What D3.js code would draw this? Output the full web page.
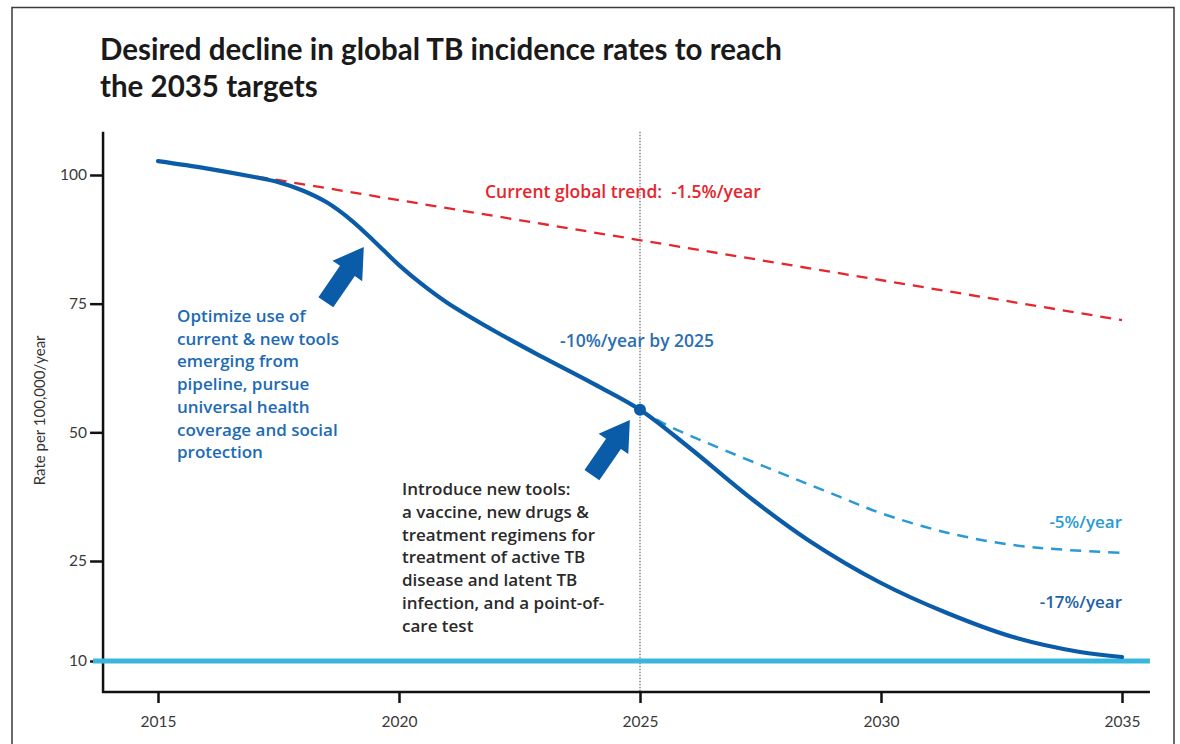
<!DOCTYPE html>
<html>
<head>
<meta charset="utf-8">
<title>TB incidence 2035</title>
<script src="https://cdn.jsdelivr.net/npm/d3@7"></script>
<style>
    body { margin: 0; background: #ffffff; }
    svg text { font-family: Lato, "Open Sans", sans-serif; }
    svg text.note { font-family: "Open Sans", Lato, sans-serif; font-weight: 600; font-size: 17px; }
</style>
</head>
<body>
<svg id="drawing_region"></svg>
<script>
// values
const year_ticks = [2015, 2020, 2025, 2030, 2035];
const rate_ticks = [10, 25, 50, 75, 100];

const current_trend = [
    { x: 2017.05, y: 99.7 },
    { x: 2035, y: 71.8 }
];

const target_path = [
    { x: 2015, y: 102.7 }, { x: 2016, y: 101.3 }, { x: 2017, y: 99.6 },
    { x: 2017.5, y: 98.6 }, { x: 2018, y: 97.0 }, { x: 2018.5, y: 94.7 },
    { x: 2019, y: 91.3 }, { x: 2019.5, y: 87.0 }, { x: 2020, y: 82.5 },
    { x: 2020.5, y: 78.6 }, { x: 2021, y: 75.2 }, { x: 2022, y: 69.6 },
    { x: 2023, y: 64.5 }, { x: 2024, y: 59.6 }, { x: 2025, y: 54.4 },
    { x: 2026, y: 47.2 }, { x: 2027.34, y: 36.9 }, { x: 2028.5, y: 29.0 },
    { x: 2030, y: 21.7 }, { x: 2031.37, y: 17.2 }, { x: 2032.74, y: 13.6 },
    { x: 2034.13, y: 11.35 }, { x: 2035, y: 10.6 }
];

const slow_path = [
    { x: 2025, y: 54.4 }, { x: 2025.56, y: 51.4 }, { x: 2029.15, y: 37.45 },
    { x: 2030, y: 34.3 }, { x: 2031.37, y: 30.5 }, { x: 2032.74, y: 28.1 },
    { x: 2033.78, y: 27.2 }, { x: 2035, y: 26.6 }
];

const target_rate = 10;
const milestone = { x: 2025, y: 54.4 };

const title_lines = ["Desired decline in global TB incidence rates to reach", "the 2035 targets"];
const optimize_lines = ["Optimize use of", "current & new tools", "emerging from", "pipeline, pursue",
    "universal health", "coverage and social", "protection"];
const introduce_lines = ["Introduce new tools:", "a vaccine, new drugs &", "treatment regimens for",
    "treatment of active TB", "disease and latent TB", "infection, and a point-of-", "care test"];

const config = {
    parent: '#drawing_region',
    width: 1180,
    height: 744
};

const navy = '#0b5ca8';
const red = '#e5262d';
const cyan = '#3ab6dc';
const light_blue = '#2a9ad4';

const svg = d3.select(config.parent)
    .attr('width', config.width)
    .attr('height', config.height);

// frame around the figure
svg.append('path')
    .attr('d', 'M12,760 L12,7.5 L1174,7.5 L1174,760')
    .attr('fill', 'none')
    .attr('stroke', '#3a3a3a')
    .attr('stroke-width', 1.5);

const xscale = d3.scaleLinear()
    .domain([2015, 2035])
    .range([158, 1122]);

// the 10 tick sits lower than a linear scale would put it
const yscale = d3.scaleLinear()
    .domain([10, 25, 100])
    .range([661, 561, 175]);

const x_left = 2013.86, x_right = 2035.58;
const y_top = 108.4, y_bottom = 5.35;

// title
svg.append('g').selectAll('text')
    .data(title_lines)
    .join('text')
    .attr('x', 100)
    .attr('y', (d, i) => 60 + i * 37)
    .attr('font-size', 29.5)
    .attr('font-weight', 700)
    .attr('fill', '#1a1a1a')
    .text(d => d);

// 2025 dotted guide
svg.append('line')
    .attr('x1', xscale(2025)).attr('x2', xscale(2025))
    .attr('y1', yscale(y_top)).attr('y2', yscale(y_bottom))
    .attr('stroke', '#777')
    .attr('stroke-width', 1.3)
    .attr('stroke-dasharray', '1.5,1.5');

// axes
const xaxis = d3.axisBottom(xscale)
    .tickValues(year_ticks)
    .tickFormat(d3.format('d'))
    .tickSize(11)
    .tickPadding(13);

const yaxis = d3.axisLeft(yscale)
    .tickValues(rate_ticks)
    .tickSize(13)
    .tickPadding(3);

const xaxis_group = svg.append('g')
    .attr('transform', `translate(0, ${yscale(y_bottom)})`)
    .call(xaxis);

const yaxis_group = svg.append('g')
    .attr('transform', `translate(${xscale(x_left)}, 0)`)
    .call(yaxis);

[xaxis_group, yaxis_group].forEach(g => {
    g.select('.domain').remove();
    g.selectAll('.tick line').attr('stroke', '#111').attr('stroke-width', 2.5);
    g.selectAll('.tick text')
        .attr('fill', '#3a3a3a')
        .attr('font-size', 15.5)
        .style('font-family', 'Lato, sans-serif');
});

svg.append('path')
    .attr('d', `M${xscale(x_left)},${yscale(y_top)} L${xscale(x_left)},${yscale(y_bottom)} L${xscale(x_right)},${yscale(y_bottom)}`)
    .attr('fill', 'none')
    .attr('stroke', '#111')
    .attr('stroke-width', 2.5);

svg.append('text')
    .attr('transform', `rotate(-90, 45, ${yscale(50) - 22})`)
    .attr('x', 45)
    .attr('y', yscale(50) - 22)
    .attr('text-anchor', 'middle')
    .attr('font-size', 15)
    .attr('fill', '#333')
    .text('Rate per 100,000/year');

// 10 per 100,000 target line
svg.append('line')
    .attr('x1', 93).attr('x2', xscale(x_right))
    .attr('y1', yscale(target_rate)).attr('y2', yscale(target_rate))
    .attr('stroke', cyan)
    .attr('stroke-width', 5);

const line = d3.line()
    .x(d => xscale(d.x))
    .y(d => yscale(d.y))
    .curve(d3.curveCatmullRom.alpha(0.5));

svg.append('path')
    .datum(current_trend)
    .attr('d', line)
    .attr('fill', 'none')
    .attr('stroke', red)
    .attr('stroke-width', 2.3)
    .attr('stroke-dasharray', '11,8');

svg.append('path')
    .datum(slow_path)
    .attr('d', line)
    .attr('fill', 'none')
    .attr('stroke', light_blue)
    .attr('stroke-width', 2.5)
    .attr('stroke-dasharray', '11,8');

svg.append('path')
    .datum(target_path)
    .attr('d', line)
    .attr('fill', 'none')
    .attr('stroke', navy)
    .attr('stroke-width', 4.2)
    .attr('stroke-linecap', 'round');

svg.append('circle')
    .attr('cx', xscale(milestone.x))
    .attr('cy', yscale(milestone.y))
    .attr('r', 6)
    .attr('fill', navy);

// block arrows pointing at the curve
const arrow_shape = 'M0,0 L-29,-18 L-29,-9 L-67,-9 L-67,9 L-29,9 L-29,18 Z';
[{ x: 2019.27, y: 86.0 }, { x: 2024.79, y: 52.4 }].forEach(a => {
    svg.append('path')
        .attr('d', arrow_shape)
        .attr('transform', `translate(${xscale(a.x)}, ${yscale(a.y)}) rotate(-55.5)`)
        .attr('fill', navy);
});

// annotations
svg.append('text')
    .attr('class', 'note')
    .attr('x', 485).attr('y', 198)
    .style('font-size', '17.5px')
    .attr('fill', red)
    .attr('xml:space', 'preserve')
    .text('Current global trend:  -1.5%/year');

svg.append('text')
    .attr('class', 'note')
    .attr('x', 560).attr('y', 347)
    .style('font-size', '17.5px')
    .attr('fill', '#2b6fb2')
    .text('-10%/year by 2025');

svg.append('text')
    .attr('class', 'note')
    .attr('x', xscale(2035)).attr('y', 528)
    .attr('text-anchor', 'end')
    .attr('fill', light_blue)
    .text('-5%/year');

svg.append('text')
    .attr('class', 'note')
    .attr('x', xscale(2035)).attr('y', 608)
    .attr('text-anchor', 'end')
    .attr('fill', '#1f62a6')
    .text('-17%/year');

svg.append('g').selectAll('text')
    .data(optimize_lines)
    .join('text')
    .attr('class', 'note')
    .attr('x', 177)
    .attr('y', (d, i) => 322 + i * 22.7)
    .attr('fill', '#1d6bb4')
    .text(d => d);

svg.append('g').selectAll('text')
    .data(introduce_lines)
    .join('text')
    .attr('class', 'note')
    .attr('x', 402)
    .attr('y', (d, i) => 495 + i * 22.8)
    .attr('fill', '#2a2a2a')
    .text(d => d);
</script>
</body>
</html>
